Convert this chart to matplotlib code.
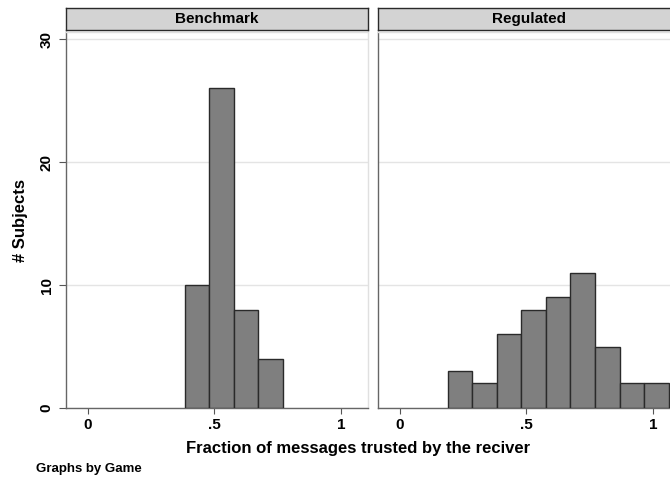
import matplotlib.pyplot as plt

# histogram bins (shared by both panels)
bin_edges = [0.19, 0.287, 0.383, 0.48, 0.577, 0.673, 0.77, 0.867, 0.963, 1.06]
benchmark_counts = [0, 0, 10, 26, 8, 4, 0, 0, 0]
regulated_counts = [3, 2, 6, 8, 9, 11, 5, 2, 2]
panel_titles = ['Benchmark', 'Regulated']
xticks = [0, 0.5, 1]
xtick_labels = ['0', '.5', '1']
yticks = [0, 10, 20, 30]

plt.rcParams['font.family'] = ['Liberation Sans', 'DejaVu Sans']
plt.rcParams['font.weight'] = 'bold'

W, H = 670, 478
fig = plt.figure(figsize=(W / 100, H / 100), dpi=100)


def px(x0, y0, x1, y1):
    # pixel box (top-left origin) -> figure fraction rect
    return [x0 / W, 1 - y1 / H, (x1 - x0) / W, (y1 - y0) / H]


panels = [(66, 368), (378, 680)]
data = [benchmark_counts, regulated_counts]

for i, ((x0, x1), counts, title) in enumerate(zip(panels, data, panel_titles)):
    ax = fig.add_axes(px(x0, 32, x1, 408))
    # empty bins are not drawn
    keep = [k for k, c in enumerate(counts) if c > 0]
    lefts = [bin_edges[k] for k in keep]
    widths = [bin_edges[k + 1] - bin_edges[k] for k in keep]
    heights = [counts[k] for k in keep]
    ax.bar(lefts, heights, width=widths, align='edge', color='#7f7f7f',
           edgecolor='#2a2a2a', linewidth=1.0, zorder=3)
    ax.set_xlim(-0.085, 1.105)
    ax.set_ylim(0, 30.57)
    ax.set_yticks(yticks)
    ax.yaxis.grid(True, color='#e4e4e4', linewidth=1.0, zorder=0)
    ax.set_xticks(xticks)
    ax.set_xticklabels(xtick_labels)
    ax.tick_params(axis='x', length=4, width=0.8, color='#555555', pad=3,
                   labelsize=11)
    if i == 0:
        ax.set_yticklabels([str(v) for v in yticks], rotation=90, va='center')
        ax.tick_params(axis='y', length=5, width=0.8, color='#555555', pad=4,
                       labelsize=11)
    else:
        ax.tick_params(axis='y', length=0, labelleft=False)
    for s in ['left', 'bottom']:
        ax.spines[s].set_color('#666666')
        ax.spines[s].set_linewidth(1.0)
    for s in ['top', 'right']:
        ax.spines[s].set_color('#e0e0e0')
        ax.spines[s].set_linewidth(1.0)

    # header strip
    hx = fig.add_axes(px(x0, 8, x1, 30))
    hx.set_xticks([])
    hx.set_yticks([])
    hx.set_facecolor('#d3d3d3')
    for s in hx.spines.values():
        s.set_color('#2a2a2a')
        s.set_linewidth(1.0)
    hx.text(0.5, 0.5, title, ha='center', va='center', fontsize=11,
            fontweight='bold', transform=hx.transAxes)

fig.text(21 / W, 1 - 221 / H, '# Subjects', rotation=90, ha='center',
         va='center', fontsize=12, fontweight='bold')
fig.text(358 / W, 1 - 448 / H, 'Fraction of messages trusted by the reciver',
         ha='center', va='center', fontsize=12, fontweight='bold')
fig.text(36 / W, 1 - 469 / H, 'Graphs by Game', ha='left', va='center',
         fontsize=9.5, fontweight='bold')

fig.savefig('out.png', dpi=100)
